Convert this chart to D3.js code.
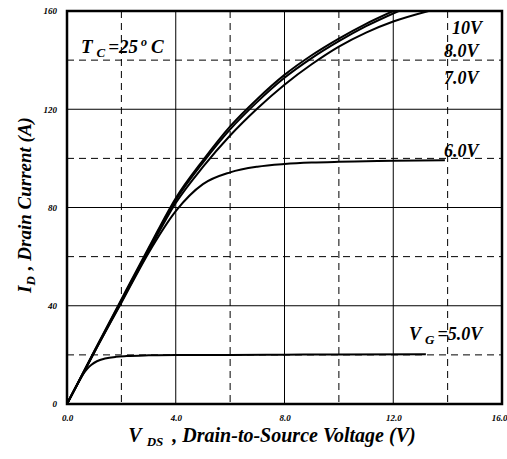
<!DOCTYPE html>
<html><head><meta charset="utf-8">
<script src="https://cdn.jsdelivr.net/npm/d3@7"></script>
<style>body{margin:0;background:#fff}svg{display:block}text{font-family:"Liberation Serif","Times New Roman",serif;font-weight:bold;font-style:italic;fill:#000}</style>
</head><body><svg id="c" width="507" height="459"></svg>
<script>
const xTicks = [0, 4, 8, 12, 16];
const xTickLabels = ["0.0", "4.0", "8.0", "12.0", "16.0"];
const yTicks = [0, 40, 80, 120, 160];
const yTickLabels = ["0", "40", "80", "120", "160"];
const xDashed = [2, 6, 10, 14];
const yDashed = [20, 60, 100, 140];
const xSolid = [4, 8, 12];
const ySolid = [40, 80, 120];

const vds10 = [0, 1, 2, 3, 4, 5, 6, 7, 8, 9, 10, 11, 12];
const id10  = [0, 21.5, 42.6, 63.5, 83.8, 99.2, 113, 124.2, 134, 142, 148.8, 154.8, 160];
const vds8  = [0, 1, 2, 3, 4, 5, 6, 7, 8, 9, 10, 11, 12.2];
const id8   = [0, 21.3, 42.2, 63, 83, 98.3, 111.8, 123, 132.8, 140.8, 147.7, 153.8, 160];
const vds7  = [0, 1, 2, 3, 4, 5, 6, 7, 8, 9, 10, 11, 12, 13.3];
const id7   = [0, 21, 41.6, 62.2, 81.8, 96.5, 109.3, 120.3, 130, 138.3, 145.5, 151.2, 155.7, 160];
const vds6  = [0, 1, 2, 3, 4, 5, 6, 7, 8, 9, 10, 11, 12, 13.9];
const id6   = [0, 21, 41.2, 61.5, 78.5, 89.5, 94.3, 96.6, 97.7, 98.3, 98.6, 98.8, 99, 99.2];
const vds5  = [0, 0.4, 0.6, 0.75, 0.9, 1.1, 1.4, 1.8, 2.2, 3, 4, 6, 8, 10, 13.2];
const id5   = [0, 8.4, 12.2, 14.4, 16.0, 17.4, 18.5, 19.2, 19.5, 19.8, 20, 20, 20.1, 20.2, 20.3];

const seriesLabels = ["10V", "8.0V", "7.0V", "6.0V"];

const svg = d3.select("#c");
const L = 67, R = 502, T = 11, B = 404;
const x = d3.scaleLinear().domain([0, 16]).range([L, R]);
const y = d3.scaleLinear().domain([0, 160]).range([B, T]);

// grid
const g = svg.append("g");
g.selectAll(".vd").data(xDashed).join("line").attr("x1", d => x(d)).attr("x2", d => x(d))
  .attr("y1", T).attr("y2", B).attr("stroke", "#000").attr("stroke-width", 1).attr("stroke-dasharray", "7,5");
g.selectAll(".hd").data(yDashed).join("line").attr("y1", d => y(d)).attr("y2", d => y(d))
  .attr("x1", L).attr("x2", R).attr("stroke", "#000").attr("stroke-width", 1).attr("stroke-dasharray", "7,5");
g.selectAll(".vs").data(xSolid).join("line").attr("x1", d => x(d)).attr("x2", d => x(d))
  .attr("y1", T).attr("y2", B).attr("stroke", "#000").attr("stroke-width", 1);
g.selectAll(".hs").data(ySolid).join("line").attr("y1", d => y(d)).attr("y2", d => y(d))
  .attr("x1", L).attr("x2", R).attr("stroke", "#000").attr("stroke-width", 1);

// curves
const line = d3.line().x(d => x(d[0])).y(d => y(d[1])).curve(d3.curveMonotoneX);
const series = [[vds10, id10], [vds8, id8], [vds7, id7], [vds6, id6], [vds5, id5]];
svg.append("clipPath").attr("id", "cp").append("rect").attr("x", L).attr("y", T).attr("width", R - L).attr("height", B - T);
svg.append("g").attr("clip-path", "url(#cp)").selectAll("path").data(series).join("path")
  .attr("d", s => line(s[0].map((v, i) => [v, s[1][i]])))
  .attr("fill", "none").attr("stroke", "#000").attr("stroke-width", 2);

// frame
svg.append("rect").attr("x", L).attr("y", T).attr("width", R - L).attr("height", B - T)
  .attr("fill", "none").attr("stroke", "#000").attr("stroke-width", 2.5);

// axes tick labels
const xAxis = d3.axisBottom(x).tickValues(xTicks).tickFormat((d, i) => xTickLabels[i]).tickSize(0).tickPadding(11);
const xa = svg.append("g").attr("transform", `translate(0,${B})`).call(xAxis);
xa.select(".domain").remove();
xa.selectAll("text").attr("font-size", 9).attr("font-family", null).attr("fill", "#000")
  .attr("dx", d => d === 16 ? -3 : 0);
const yAxis = d3.axisLeft(y).tickValues(yTicks).tickFormat((d, i) => yTickLabels[i]).tickSize(0).tickPadding(10);
const ya = svg.append("g").attr("transform", `translate(${L},0)`).call(yAxis);
ya.select(".domain").remove();
ya.selectAll("text").attr("font-size", 9).attr("font-family", null).attr("fill", "#000");

// series labels
const lab = [[452, 34, "10V"], [444, 57, "8.0V"], [444, 84, "7.0V"], [444, 157, "6.0V"]];
svg.selectAll(".sl").data(lab).join("text").attr("x", d => d[0]).attr("y", d => d[1])
  .attr("font-size", 18).text(d => d[2]);

const vg = svg.append("text").attr("x", 409).attr("y", 340).attr("font-size", 18);
vg.append("tspan").text("V");
vg.append("tspan").attr("font-size", 13).attr("dx", 4).attr("dy", 4).text("G");
vg.append("tspan").attr("dx", 3).attr("dy", -4).text("=5.0V");

const tc = svg.append("text").attr("x", 81).attr("y", 53).attr("font-size", 19);
tc.append("tspan").text("T");
tc.append("tspan").attr("font-size", 13).attr("dx", 4).attr("dy", 4).text("C");
tc.append("tspan").attr("dx", 3).attr("dy", -4).text("=25");
tc.append("tspan").attr("font-size", 12).attr("dx", 3).attr("dy", -7).text("o");
tc.append("tspan").attr("dx", 4).attr("dy", 7).text("C");

// axis titles
const xt = svg.append("text").attr("x", 272).attr("y", 442).attr("text-anchor", "middle").attr("font-size", 20);
xt.append("tspan").text("V");
xt.append("tspan").attr("font-size", 13).attr("dx", 5).attr("dy", 4).text("DS");
xt.append("tspan").attr("dx", 9).attr("dy", -4).text(", Drain-to-Source Voltage (V)");

const yt = svg.append("text").attr("transform", "translate(31,205) rotate(-90)").attr("text-anchor", "middle").attr("font-size", 19);
yt.append("tspan").text("I");
yt.append("tspan").attr("font-size", 13).attr("dy", 4).text("D");
yt.append("tspan").attr("dx", 6).attr("dy", -4).text(", Drain Current (A)");
</script></body></html>
